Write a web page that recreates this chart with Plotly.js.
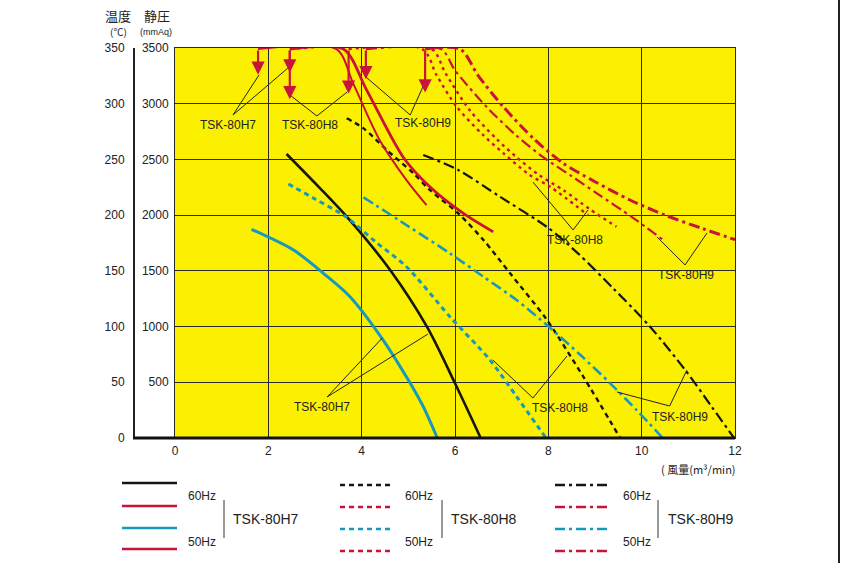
<!DOCTYPE html>
<html>
<head>
<meta charset="utf-8">
<script src="https://cdn.plot.ly/plotly-3.0.1.min.js"></script>
<style>
html,body{margin:0;padding:0;background:#fff;}
#chart{width:843px;height:563px;}
</style>
</head>
<body>
<div id="chart"></div>
<script>
// ---------- data (static pressure, mmAq) ----------
const h7_60_x = [2.39, 3.1, 3.68, 4.61, 5.41, 6.0, 6.55];
const h7_60_p = [2549, 2245, 1986, 1508, 990, 491, 0];
const h7_50_x = [1.64, 2.54, 3.18, 3.75, 4.46, 5.0, 5.32, 5.62];
const h7_50_p = [1873, 1687, 1478, 1268, 879, 520, 281, 0];
const h8_60_x = [3.68, 4.04, 4.54, 5.11, 5.46, 6.07, 6.61, 7.18, 7.96, 8.75, 9.54];
const h8_60_p = [2869, 2779, 2584, 2375, 2226, 2016, 1777, 1478, 1065, 550, 0];
const h8_50_x = [2.43, 3.0, 3.68, 4.3, 4.96, 5.89, 6.75, 7.32, 7.95];
const h8_50_p = [2279, 2145, 1980, 1760, 1537, 1089, 700, 371, 0];
const h9_60_x = [5.32, 6.07, 6.96, 8.0, 8.64, 9.39, 10.18, 10.96, 11.5, 11.98];
const h9_60_p = [2540, 2405, 2166, 1885, 1655, 1343, 999, 595, 281, 0];
const h9_50_x = [4.04, 5.0, 5.89, 6.6, 7.32, 8.02, 8.7, 9.32, 9.89, 10.45];
const h9_50_p = [2160, 1900, 1657, 1450, 1238, 995, 740, 493, 251, 0];

// ---------- data (temperature, °C) ----------
const h7_tA_x = [1.78, 3.46, 3.82, 4.39, 4.96, 5.39];
const h7_tA_t = [349, 349, 318, 267, 231.5, 209];
const h7_tB_x = [2.46, 3.61, 4.11, 4.89, 5.46, 6.18, 6.82];
const h7_tB_t = [349, 349, 312, 252, 225.5, 201.6, 185];
const h8_tA_x = [2.46, 5.3, 5.6, 6.04, 6.6, 7.04, 7.6, 8.04, 8.85];
const h8_tA_t = [349, 349, 326, 297, 272, 255.5, 236, 225.5, 200];
const h8_tB_x = [3.72, 5.5, 5.8, 6.32, 6.9, 7.32, 7.8, 8.32, 8.9, 9.46];
const h8_tB_t = [349, 349, 327, 294, 268, 252, 236, 222.5, 205, 189.6];
const h9_tA_x = [4.09, 5.7, 6.0, 6.68, 7.3, 7.89, 8.5, 9.04, 9.8, 10.46];
const h9_tA_t = [349, 349, 330, 297, 272, 252, 235, 219.6, 198, 177.7];
const h9_tB_x = [5.36, 6.11, 6.5, 7.04, 7.7, 8.32, 9.0, 9.75, 10.5, 11.3, 12.0];
const h9_tB_t = [349, 349, 325, 297, 268, 246.5, 230, 213.6, 200, 188, 178];

// arrows at top (x, tip temperature)
const arrow_x = [1.78, 2.46, 2.46, 3.72, 4.09, 5.36];
const arrow_t = [326, 328, 304, 309, 322, 310];

// ticks
const x_ticks = [0, 2, 4, 6, 8, 10, 12];
const p_ticks = [500, 1000, 1500, 2000, 2500, 3000, 3500];
const t_ticks = [0, 50, 100, 150, 200, 250, 300, 350];

// ---------- styles ----------
const BLACK = '#161616', RED = '#c8143c', CYAN = '#1898be';
const DOT_BLK = '5px,4px', DOT_RED = '3px,4px', DASHDOT = '11px,4px,3px,4px';

function tr(x, y, color, width, dash, yaxis) {
  return {x: x, y: y, type: 'scatter', mode: 'lines', yaxis: yaxis,
          line: {color: color, width: width, dash: dash, shape: 'spline', smoothing: 0.8},
          hoverinfo: 'skip', showlegend: false};
}
const traces = [
  tr(h7_60_x, h7_60_p, BLACK, 2.6, 'solid', 'y'),
  tr(h7_50_x, h7_50_p, CYAN, 3, 'solid', 'y'),
  tr(h8_60_x, h8_60_p, BLACK, 2.4, DOT_BLK, 'y'),
  tr(h8_50_x, h8_50_p, CYAN, 3, DOT_BLK, 'y'),
  tr(h9_60_x, h9_60_p, BLACK, 2.2, DASHDOT, 'y'),
  tr(h9_50_x, h9_50_p, CYAN, 2.6, DASHDOT, 'y'),
  tr(h7_tA_x, h7_tA_t, RED, 2, 'solid', 'y2'),
  tr(h7_tB_x, h7_tB_t, RED, 2.8, 'solid', 'y2'),
  tr(h8_tA_x, h8_tA_t, RED, 2.4, DOT_RED, 'y2'),
  tr(h8_tB_x, h8_tB_t, RED, 2.4, DOT_RED, 'y2'),
  tr(h9_tA_x, h9_tA_t, RED, 2.2, DASHDOT, 'y2'),
  tr(h9_tB_x, h9_tB_t, RED, 3, DASHDOT, 'y2')
];

// ---------- layout helpers (pixel -> paper) ----------
const ML = 100, MR = 108, MT = 48, MB = 125, W = 843, H = 563;
const PW = W - ML - MR, PH = H - MT - MB;
const PX = px => (px - ML) / PW;
const PY = py => (MT + PH - py) / PH;
const FONT = 'Liberation Sans, Arial, sans-serif';
const JFONT = 'Noto Sans CJK JP, sans-serif';

const annotations = [];
const shapes = [];
function ptext(px, py, text, size, family) {
  annotations.push({xref: 'paper', yref: 'paper', x: PX(px), y: PY(py), text: text,
    xanchor: 'center', yanchor: 'middle', showarrow: false,
    font: {family: family || FONT, size: size, color: '#222'}});
}

// arrows
arrow_x.forEach((x, i) => {
  annotations.push({x: x, y: arrow_t[i], xref: 'x', yref: 'y2', ax: x, ay: 349,
    axref: 'x', ayref: 'y2', text: '', showarrow: true, arrowhead: 2,
    arrowsize: 1.2, arrowwidth: 2.2, arrowcolor: RED});
});

// model labels inside the plot with leader lines (data coords)
const labels = [
  {t: 'TSK-80H7', x: 1.125, y: 2809, o: [1.243, 2899], a: [1.80, 3258], b: [2.42, 3320]},
  {t: 'TSK-80H8', x: 2.90, y: 2809, o: [3.04, 2890], a: [2.49, 3069], b: [3.69, 3105]},
  {t: 'TSK-80H9', x: 5.31, y: 2827, o: [5.04, 2899], a: [4.09, 3240], b: [5.34, 3177]},
  {t: 'TSK-80H8', x: 8.57, y: 1777, o: [8.53, 1867], a: [7.67, 2297], b: [8.85, 2046]},
  {t: 'TSK-80H9', x: 10.95, y: 1463, o: [10.93, 1553], a: [10.33, 1804], b: [11.4, 1840]},
  {t: 'TSK-80H7', x: 3.16, y: 278, o: [3.26, 368], a: [4.44, 897], b: [5.42, 933]},
  {t: 'TSK-80H8', x: 8.25, y: 269, o: [7.67, 359], a: [6.81, 700], b: [8.4, 736]},
  {t: 'TSK-80H9', x: 10.82, y: 188, o: [10.6, 287], a: [9.47, 413], b: [10.97, 610]}
];
labels.forEach(l => {
  annotations.push({x: l.x, y: l.y, xref: 'x', yref: 'y', text: l.t, showarrow: false,
    xanchor: 'center', yanchor: 'middle',
    font: {family: FONT, size: 12, color: '#222'}});
  [l.a, l.b].forEach(p => shapes.push({type: 'line', xref: 'x', yref: 'y',
    x0: l.o[0], y0: l.o[1], x1: p[0], y1: p[1], line: {color: '#222', width: 1}}));
});

// thick bottom axis line, extended left to the temperature axis
shapes.push({type: 'line', xref: 'paper', yref: 'paper', x0: PX(133), x1: 1, y0: 0, y1: 0,
  line: {color: '#111', width: 3}, layer: 'above'});
// scan edge at far right
shapes.push({type: 'line', xref: 'paper', yref: 'paper', x0: PX(839), x1: PX(839), y0: PY(563), y1: PY(0),
  line: {color: '#222', width: 2}});

// headers
ptext(118, 15, '温度', 13, JFONT);
ptext(157, 15, '静圧', 13, JFONT);
ptext(118, 32, '(℃)', 10, JFONT);
ptext(156, 32, '(mmAq)', 9, FONT);
// x-axis title
ptext(698, 469, '( 風量(m³/min)', 11, JFONT);

// legend (drawn as layout items)
const legGroups = [
  {x0: 122, x1: 177, ys: [483, 506, 528, 549], dash: 'solid', tx: 202, br: 224, name: 'TSK-80H7', nx: 266},
  {x0: 340, x1: 392, ys: [485, 507, 529, 551], dash: '5px,4px', tx: 419, br: 442, name: 'TSK-80H8', nx: 484},
  {x0: 555, x1: 610, ys: [485, 507, 529, 551], dash: '10px,4px,3px,4px', tx: 637, br: 658, name: 'TSK-80H9', nx: 701}
];
const legColors = [BLACK, RED, CYAN, RED];
legGroups.forEach(g => {
  g.ys.forEach((y, i) => shapes.push({type: 'line', xref: 'paper', yref: 'paper',
    x0: PX(g.x0), x1: PX(g.x1), y0: PY(y), y1: PY(y),
    line: {color: legColors[i], width: 2.5, dash: g.dash}}));
  ptext(g.tx, 496, '60Hz', 12);
  ptext(g.tx, 542, '50Hz', 12);
  shapes.push({type: 'line', xref: 'paper', yref: 'paper', x0: PX(g.br), x1: PX(g.br), y0: PY(500), y1: PY(538),
    line: {color: '#333', width: 1}});
  ptext(g.nx, 519, g.name, 14);
});

const layout = {
  width: W, height: H,
  margin: {l: ML, r: MR, t: MT, b: MB, pad: 0},
  paper_bgcolor: '#ffffff',
  plot_bgcolor: '#fbf000',
  showlegend: false,
  xaxis: {domain: [PX(175), 1], range: [0, 12], tickvals: x_ticks, ticktext: x_ticks.map(String),
    showgrid: true, gridcolor: '#2a2a2a', gridwidth: 1, zeroline: false,
    showline: true, linecolor: '#2a2a2a', linewidth: 1, mirror: true, ticks: '',
    ticklabelstandoff: 2,
    tickfont: {family: FONT, size: 12, color: '#222'}, fixedrange: true},
  yaxis: {range: [0, 3500], tickvals: p_ticks, ticktext: p_ticks.map(String),
    showgrid: true, gridcolor: '#2a2a2a', gridwidth: 1, zeroline: false,
    showline: true, linecolor: '#2a2a2a', linewidth: 1, mirror: true, ticks: '',
    ticklabelstandoff: 3,
    tickfont: {family: FONT, size: 12, color: '#222'}, fixedrange: true},
  yaxis2: {range: [0, 350], tickvals: t_ticks, ticktext: t_ticks.map(String),
    overlaying: 'y', anchor: 'free', position: PX(134), side: 'left',
    showgrid: false, zeroline: false, showline: true, linecolor: '#222', linewidth: 2,
    ticks: '', ticklabelstandoff: 6,
    tickfont: {family: FONT, size: 12, color: '#222'}, fixedrange: true},
  shapes: shapes,
  annotations: annotations
};

Plotly.newPlot('chart', traces, layout, {staticPlot: true, displayModeBar: false});
</script>
</body>
</html>
